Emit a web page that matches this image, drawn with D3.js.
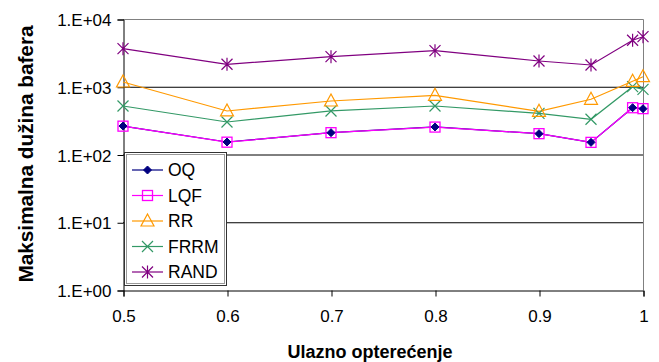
<!DOCTYPE html>
<html>
<head>
<meta charset="utf-8">
<script src="https://cdn.jsdelivr.net/npm/d3@7/dist/d3.min.js"></script>
<style>
  body { margin: 0; background: #fff; }
  svg { display: block; font-family: "Liberation Sans", Arial, sans-serif; }
</style>
</head>
<body>
<svg id="chart" width="659" height="362"></svg>
<script>
// chart data
const loads = [0.5, 0.6, 0.7, 0.8, 0.9, 0.95, 0.99, 1.0];
const oq   = [263, 153, 210, 255, 203, 151, 491, 474];
const lqf  = [262, 152, 210, 254, 203, 151, 490, 475];
const rr   = [1175, 439, 616, 748, 434, 653, 1203, 1408];
const frrm = [520, 302, 439, 520, 405, 331, 1002, 917];
const rand = [3646, 2146, 2780, 3410, 2400, 2094, 4850, 5480];

const seriesNames = ['OQ', 'LQF', 'RR', 'FRRM', 'RAND'];
const xTicks = [0.5, 0.6, 0.7, 0.8, 0.9, 1];
const yTicks = [1, 10, 100, 1000, 10000];

const series = [
  { name: 'OQ', values: oq, color: '#000080', marker: 'diamond' },
  { name: 'LQF', values: lqf, color: '#ff00ff', marker: 'square' },
  { name: 'RR', values: rr, color: '#ff9900', marker: 'triangle' },
  { name: 'FRRM', values: frrm, color: '#339966', marker: 'x' },
  { name: 'RAND', values: rand, color: '#800080', marker: 'star' }
];

const plot = { left: 123, right: 643, top: 19, bottom: 290 };
const fontFamily = '"Liberation Sans", Arial, sans-serif';

const x = d3.scaleLinear().domain([0.5, 1]).range([plot.left, plot.right]);
const y = d3.scaleLog().domain([1, 10000]).range([plot.bottom, plot.top]);

const svg = d3.select('#chart');

// grid lines
svg.append('g')
  .selectAll('line')
  .data([10, 100, 1000])
  .join('line')
  .attr('x1', plot.left).attr('x2', plot.right)
  .attr('y1', d => y(d) + 0.5).attr('y2', d => y(d) + 0.5)
  .attr('stroke', '#000').attr('stroke-width', 1);

// plot frame (top / right are grey)
svg.append('path')
  .attr('d', `M${plot.left},${plot.top + 0.5}H${plot.right + 0.5}V${plot.bottom}`)
  .attr('fill', 'none').attr('stroke', '#808080').attr('stroke-width', 1);

// axes
const yAxis = d3.axisLeft(y)
  .tickValues(yTicks)
  .tickSize(6)
  .tickFormat(d => '1.E+' + String(Math.round(Math.log10(d))).padStart(2, '0'));

const xAxis = d3.axisBottom(x)
  .tickValues(xTicks)
  .tickSize(6)
  .tickFormat(d => d === 1 ? '1' : d3.format('.1f')(d));

const gy = svg.append('g')
  .attr('transform', `translate(${plot.left + 0.5},0.5)`)
  .call(yAxis)
  .attr('font-family', fontFamily).attr('font-size', 17);
gy.selectAll('text').attr('fill', '#000').attr('x', -12).attr('dy', '0.36em');

const gx = svg.append('g')
  .attr('transform', `translate(0.5,${plot.bottom + 0.5})`)
  .call(xAxis)
  .attr('font-family', fontFamily).attr('font-size', 17);
gx.selectAll('text').attr('fill', '#000').attr('y', 19);

svg.selectAll('.domain').attr('stroke', '#000');
svg.selectAll('.tick line').attr('stroke', '#000');

// axis titles
svg.append('text')
  .attr('x', 370).attr('y', 358)
  .attr('text-anchor', 'middle')
  .attr('font-size', 18).attr('font-weight', 'bold')
  .text('Ulazno opterećenje');

svg.append('text')
  .attr('transform', 'translate(33,154) rotate(-90)')
  .attr('text-anchor', 'middle')
  .attr('font-size', 20).attr('font-weight', 'bold')
  .attr('textLength', 257).attr('lengthAdjust', 'spacingAndGlyphs')
  .text('Maksimalna dužina bafera');

// markers
function drawMarker(g, type, color) {
  if (type === 'diamond') {
    g.append('path').attr('d', 'M0,-4L4,0L0,4L-4,0Z').attr('fill', color).attr('stroke', color);
  } else if (type === 'square') {
    g.append('rect').attr('x', -5).attr('y', -5).attr('width', 10).attr('height', 10)
      .attr('fill', 'none').attr('stroke', color).attr('stroke-width', 1.3);
  } else if (type === 'triangle') {
    g.append('path').attr('d', 'M0,-7L6.5,5L-6.5,5Z')
      .attr('fill', 'none').attr('stroke', color).attr('stroke-width', 1.2);
  } else if (type === 'x') {
    g.append('path').attr('d', 'M-5.5,-5.5L5.5,5.5M-5.5,5.5L5.5,-5.5')
      .attr('stroke', color).attr('stroke-width', 1.2);
  } else if (type === 'star') {
    g.append('path').attr('d', 'M-5.5,-5.5L5.5,5.5M-5.5,5.5L5.5,-5.5M0,-6.5L0,6.5')
      .attr('stroke', color).attr('stroke-width', 1.2);
  }
}

const line = d3.line()
  .x((d, i) => x(loads[i]))
  .y(d => y(d));

// lines in series order, so LQF's line covers OQ's as in the original
series.forEach(s => {
  svg.append('path')
    .attr('d', line(s.values))
    .attr('fill', 'none')
    .attr('stroke', s.color)
    .attr('stroke-width', 1.2);
});
// markers on top, OQ diamonds last so they stay visible inside the squares
series.slice().reverse().forEach(s => {
  const g = svg.append('g');
  s.values.forEach((v, i) => {
    drawMarker(g.append('g').attr('transform', `translate(${x(loads[i])},${y(v)})`), s.marker, s.color);
  });
});

// legend
const legend = svg.append('g');
legend.append('rect')
  .attr('x', 124.5).attr('y', 152.5).attr('width', 102).attr('height', 133)
  .attr('fill', '#fff').attr('stroke', '#333').attr('stroke-width', 1);
legend.append('rect')
  .attr('x', 126.5).attr('y', 154.5).attr('width', 98).attr('height', 129)
  .attr('fill', 'none').attr('stroke', '#999').attr('stroke-width', 1);

const legendY = d3.scalePoint().domain(seriesNames).range([170, 272]);

series.forEach(s => {
  const ly = legendY(s.name);
  legend.append('line')
    .attr('x1', 132).attr('x2', 163).attr('y1', ly).attr('y2', ly)
    .attr('stroke', s.color).attr('stroke-width', 1.2);
  drawMarker(legend.append('g').attr('transform', `translate(147.5,${ly})`), s.marker, s.color);
  legend.append('text')
    .attr('x', 168).attr('y', ly).attr('dy', '0.36em')
    .attr('font-size', 17.5)
    .text(s.name);
});
</script>
</body>
</html>
